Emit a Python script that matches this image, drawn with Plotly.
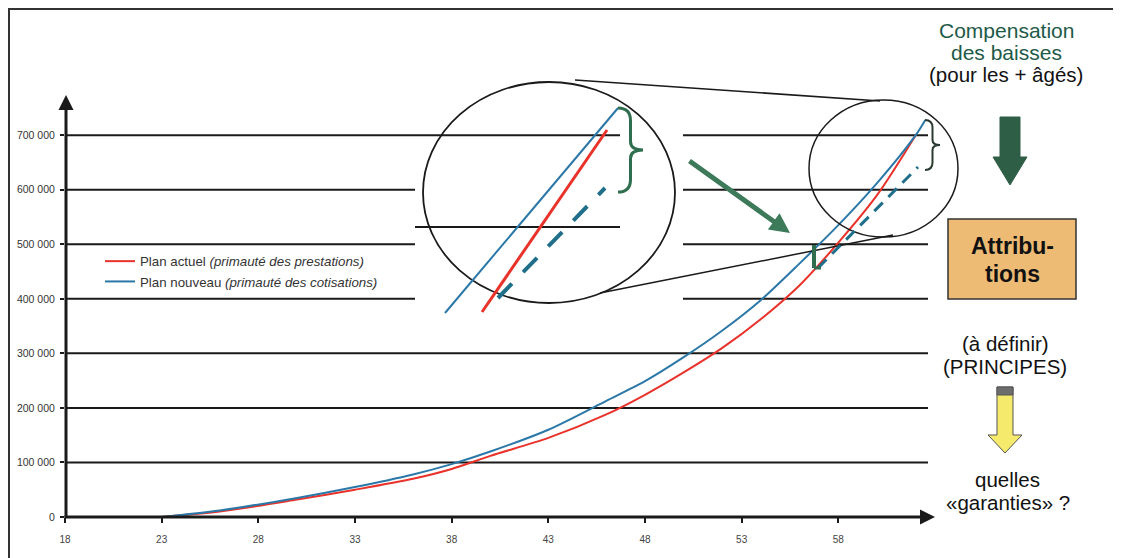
import plotly.graph_objects as go

# ---------------- data ----------------
ages_actuel = [23, 26, 30, 33, 36, 38, 40, 43, 46, 48, 50, 52, 54, 56, 58, 60, 62]
vals_actuel = [0, 10000, 32000, 50000, 70000, 88000, 112000, 145000, 188000, 224000,
               265000, 310000, 363000, 425000, 503000, 590000, 700000]
ages_nouveau = [23, 26, 30, 33, 36, 38, 40, 43, 46, 48, 50, 52, 54, 56, 58, 60, 62, 62.5]
vals_nouveau = [0, 12000, 35000, 55000, 78000, 97000, 120000, 160000, 213000, 249000,
                293000, 342000, 398000, 465000, 535000, 612000, 700000, 728000]
x_ticks = [18, 23, 28, 33, 38, 43, 48, 53, 58]
y_ticks = [0, 100000, 200000, 300000, 400000, 500000, 600000, 700000]
y_ticktext = ["0", "100 000", "200 000", "300 000", "400 000", "500 000", "600 000", "700 000"]
name_actuel = "Plan actuel <i>(primauté des prestations)</i>"
name_nouveau = "Plan nouveau <i>(primauté des cotisations)</i>"

RED = "#E8322A"
BLUE = "#2B78A8"
TEAL = "#1F6F8B"
GREEN = "#2F6E4E"
DARK = "#1a1a1a"
FONT = "Liberation Sans, Arial"

# page offset (body margin of the html page)
OX, OY = 8, 8
W, H = 1121 - OX, 558 - OY
PLOT_L, PLOT_R, PLOT_T, PLOT_B = 65, 935, 97, 517  # plot area in page pixels
L = PLOT_L - OX
T = PLOT_T - OY
R = W - (PLOT_R - OX)
B = H - (PLOT_B - OY)
PW = PLOT_R - PLOT_L
PH = PLOT_B - PLOT_T


def X(px):
    return (px - PLOT_L) / PW


def Y(py):
    return (PLOT_B - py) / PH


fig = go.Figure()
fig.add_trace(go.Scatter(x=ages_actuel, y=vals_actuel, mode="lines", name=name_actuel,
                         line=dict(color=RED, width=2, shape="spline", smoothing=0.8)))
fig.add_trace(go.Scatter(x=ages_nouveau, y=vals_nouveau, mode="lines", name=name_nouveau,
                         line=dict(color=BLUE, width=2, shape="spline", smoothing=0.8)))

shapes = []


def hline_val(v, p0, p1, w=2):
    shapes.append(dict(type="line", xref="paper", yref="y", x0=X(p0), x1=X(p1), y0=v, y1=v,
                       line=dict(color=DARK, width=w), layer="below"))


def line_px(x0, y0, x1, y1, color=DARK, w=1.5, dash=None):
    ln = dict(color=color, width=w)
    if dash:
        ln["dash"] = dash
    shapes.append(dict(type="line", xref="paper", yref="paper", x0=X(x0), y0=Y(y0),
                       x1=X(x1), y1=Y(y1), line=ln))


for v in y_ticks[1:4]:
    hline_val(v, 66, 928)
for v in y_ticks[4:7]:
    hline_val(v, 66, 415)
    hline_val(v, 683, 928)
hline_val(700000, 66, 620)
hline_val(700000, 683, 928)
# inset gridline
line_px(415, 227, 620, 227, DARK, 2)

# frame
line_px(8, 9, 1121, 9, "#333", 2)
line_px(9, 8, 9, 558, "#333", 2)

# circles
shapes.append(dict(type="circle", xref="paper", yref="paper", x0=X(423), x1=X(675),
                   y0=Y(82), y1=Y(303), line=dict(color=DARK, width=1.8)))
shapes.append(dict(type="circle", xref="paper", yref="paper", x0=X(809), x1=X(958),
                   y0=Y(100), y1=Y(237), line=dict(color=DARK, width=1.5)))
# connecting lines
line_px(575, 80, 880, 101, DARK, 1.5)
line_px(600, 293, 893, 235, DARK, 1.5)

# inset zoomed curves
line_px(445, 313, 618, 108, BLUE, 2)
line_px(482, 312, 607, 130, RED, 3)
line_px(498, 298, 605, 188, TEAL, 4, "20px,16px")
# dashed extrapolation in main chart
line_px(818, 268, 918, 167, TEAL, 3, "12px,8px")


def brace(x, y0, y1, w, color, width):
    h = y1 - y0
    ym = (y0 + y1) / 2
    xm = x + w * 0.5
    pts = [
        ("M", [(x, y0)]),
        ("Q", [(xm, y0), (xm, y0 + h * 0.15)]),
        ("L", [(xm, ym - h * 0.1)]),
        ("Q", [(xm, ym), (x + w, ym)]),
        ("Q", [(xm, ym), (xm, ym + h * 0.1)]),
        ("L", [(xm, y1 - h * 0.15)]),
        ("Q", [(xm, y1), (x, y1)]),
    ]
    path = ""
    for cmd, pp in pts:
        path += cmd + " ".join(f"{X(a):.5f},{Y(b):.5f}" for a, b in pp) + " "
    shapes.append(dict(type="path", xref="paper", yref="paper", path=path.strip(),
                       line=dict(color=color, width=width)))


brace(618, 108, 192, 25, GREEN, 3)
brace(925, 120, 170, 15, "#2a3a30", 2)
# small green bracket
line_px(814, 245, 814, 268, GREEN, 4)
line_px(814, 268, 821, 268, GREEN, 3)


def poly(pts, fill, lc, lw=1):
    path = "M" + " L".join(f"{X(a):.5f},{Y(b):.5f}" for a, b in pts) + " Z"
    shapes.append(dict(type="path", xref="paper", yref="paper", path=path,
                       fillcolor=fill, line=dict(color=lc, width=lw)))


# dark green down arrow
poly([(1000, 117), (1020, 117), (1020, 157), (1027, 157), (1010, 185), (993, 157), (1000, 157)],
     "#2F5E46", "#2F5E46")
# yellow down arrow
poly([(997, 387), (1013, 387), (1013, 435), (1022, 435), (1005, 453), (988, 435), (997, 435)],
     "#F6EA6C", "#555", 1)
poly([(997, 387), (1013, 387), (1013, 395), (997, 395)], "#6d6d6d", "#555", 1)
# orange box
shapes.append(dict(type="rect", xref="paper", yref="paper", x0=X(948), x1=X(1076),
                   y0=Y(219), y1=Y(299), fillcolor="#EDBB74", line=dict(color="#333", width=1.5)))

annotations = []


def text(px, py, s, size=20.5, color="#111", bold=False):
    annotations.append(dict(xref="paper", yref="paper", x=X(px), y=Y(py), text=(f"<b>{s}</b>" if bold else s),
                            showarrow=False, xanchor="center", yanchor="middle",
                            font=dict(family=FONT, size=size, color=color)))


text(1006, 31, "Compensation", 21, "#1E5A48")
text(1006, 53, "des baisses", 21, "#1E5A48")
text(1006, 75, "(pour les + âgés)", 20.5, "#111")
text(1012, 246, "Attribu-", 23, "#111", True)
text(1012, 274, "tions", 23, "#111", True)
text(1005, 343, "(à définir)")
text(1005, 366, "(PRINCIPES)")
text(1008, 479, "quelles")
text(1008, 502, "«garanties» ?")

# axes arrows
annotations.append(dict(xref="paper", yref="paper", x=X(66), y=Y(95), ax=0, ay=424,
                        showarrow=True, arrowhead=2, arrowsize=1, arrowwidth=3,
                        arrowcolor=DARK, text=""))
annotations.append(dict(xref="paper", yref="paper", x=X(935), y=Y(517), ax=-872, ay=0,
                        showarrow=True, arrowhead=2, arrowsize=1, arrowwidth=3,
                        arrowcolor=DARK, text=""))
# green diagonal arrow
annotations.append(dict(xref="paper", yref="paper", x=X(790), y=Y(233), ax=-102, ay=-73,
                        showarrow=True, arrowhead=2, arrowsize=0.8, arrowwidth=5,
                        arrowcolor="#3C7A5A", text=""))

fig.update_layout(
    width=W, height=H,
    margin=dict(l=L, r=R, t=T, b=B, autoexpand=False),
    paper_bgcolor="white", plot_bgcolor="white",
    shapes=shapes, annotations=annotations,
    showlegend=True,
    legend=dict(x=X(100), y=Y(246), xanchor="left", yanchor="top",
                bgcolor="rgba(0,0,0,0)", font=dict(family=FONT, size=13.3, color="#333"),
                tracegroupgap=0),
    xaxis=dict(range=[18, 63], tickvals=x_ticks, showgrid=False, zeroline=False, showline=False,
               ticks="outside", ticklen=5, tickwidth=2, tickcolor=DARK,
               tickfont=dict(family=FONT, size=10, color="#444"),
               ticklabelstandoff=8),
    yaxis=dict(range=[0, 770000], tickvals=y_ticks, ticktext=y_ticktext, showgrid=False,
               zeroline=False, showline=False, ticks="outside", ticklen=4, tickwidth=2,
               tickcolor=DARK, tickfont=dict(family=FONT, size=10.5, color="#333"),
               ticklabelstandoff=3),
)

fig.write_html("out.html")
